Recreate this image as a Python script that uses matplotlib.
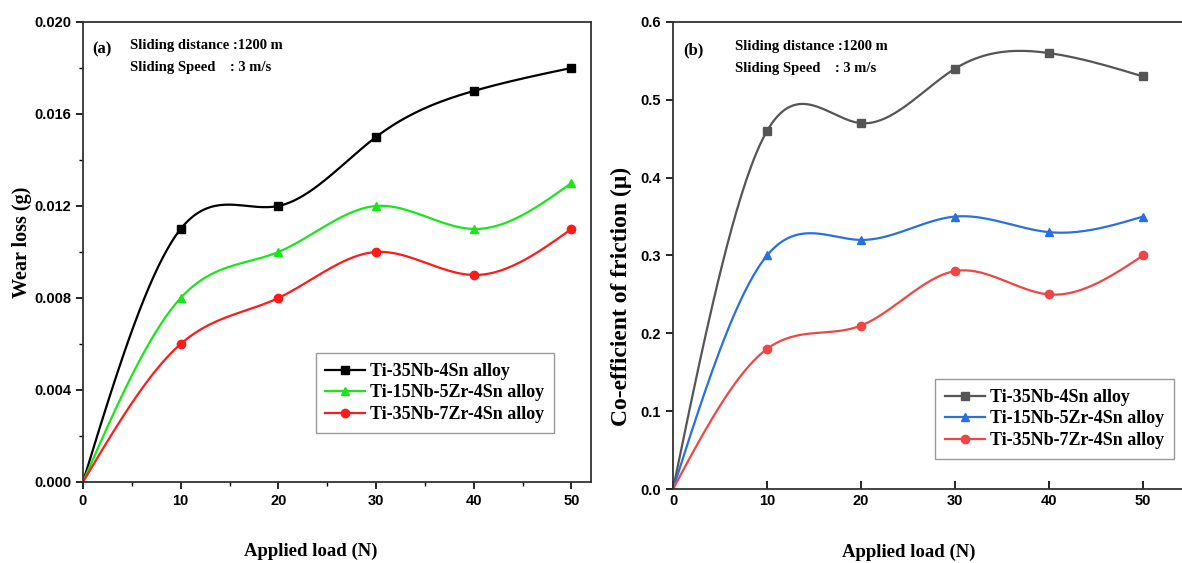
import numpy as np
import matplotlib
matplotlib.use('Agg')
import matplotlib.pyplot as plt
from matplotlib.ticker import MultipleLocator

# data
load = [0, 10, 20, 30, 40, 50]
series_names = ['Ti-35Nb-4Sn alloy', 'Ti-15Nb-5Zr-4Sn alloy', 'Ti-35Nb-7Zr-4Sn alloy']
wear_35Nb4Sn = [0.0, 0.011, 0.012, 0.015, 0.017, 0.018]
wear_15Nb5Zr4Sn = [0.0, 0.008, 0.010, 0.012, 0.011, 0.013]
wear_35Nb7Zr4Sn = [0.0, 0.006, 0.008, 0.010, 0.009, 0.011]
cof_35Nb4Sn = [0.0, 0.46, 0.47, 0.54, 0.56, 0.53]
cof_15Nb5Zr4Sn = [0.0, 0.30, 0.32, 0.35, 0.33, 0.35]
cof_35Nb7Zr4Sn = [0.0, 0.18, 0.21, 0.28, 0.25, 0.30]

colors_a = ['black', '#19e619', '#ff1a1a']
colors_b = ['#555555', '#2a6fe0', '#f04545']
markers = ['s', '^', 'o']

serif = 'Liberation Serif'
sans = 'Liberation Sans'


def spline(x, y, n=200):
    # natural cubic spline, only used to draw the smooth connecting line
    x = np.asarray(x, float)
    y = np.asarray(y, float)
    k = len(x)
    h = np.diff(x)
    A = np.zeros((k, k))
    r = np.zeros(k)
    A[0, 0] = A[-1, -1] = 1
    for i in range(1, k - 1):
        A[i, i - 1] = h[i - 1]
        A[i, i] = 2 * (h[i - 1] + h[i])
        A[i, i + 1] = h[i]
        r[i] = 3 * ((y[i + 1] - y[i]) / h[i] - (y[i] - y[i - 1]) / h[i - 1])
    c = np.linalg.solve(A, r)
    xs = np.linspace(x[0], x[-1], n)
    idx = np.clip(np.searchsorted(x, xs) - 1, 0, k - 2)
    dx = xs - x[idx]
    b = (y[1:] - y[:-1]) / h - h * (2 * c[:-1] + c[1:]) / 3
    d = (c[1:] - c[:-1]) / (3 * h)
    ys = y[idx] + b[idx] * dx + c[idx] * dx ** 2 + d[idx] * dx ** 3
    return xs, ys


fig = plt.figure(figsize=(11.82, 5.63), dpi=100)
ax1 = fig.add_axes([0.0702, 0.1439, 0.4298, 0.8171])
ax2 = fig.add_axes([0.5694, 0.1314, 0.4374, 0.8296])


def draw(ax, ys, colors):
    for vals, col, m, name in zip(ys, colors, markers, series_names):
        xs, sm = spline(load, vals)
        ax.plot(xs, sm, color=col, lw=1.6)
        ax.plot(load[1:], vals[1:], ls='none', marker=m, color=col, ms=6)
        ax.plot([], [], color=col, lw=1.6, marker=m, ms=6, label=name)


draw(ax1, [wear_35Nb4Sn, wear_15Nb5Zr4Sn, wear_35Nb7Zr4Sn], colors_a)
draw(ax2, [cof_35Nb4Sn, cof_15Nb5Zr4Sn, cof_35Nb7Zr4Sn], colors_b)

ax1.set_xlim(0, 52)
ax1.set_ylim(0, 0.020)
ax1.set_yticks([0.000, 0.004, 0.008, 0.012, 0.016, 0.020])
ax1.set_yticklabels(['0.000', '0.004', '0.008', '0.012', '0.016', '0.020'])
ax1.set_xticks(load)
ax1.xaxis.set_minor_locator(MultipleLocator(5))
ax1.yaxis.set_minor_locator(MultipleLocator(0.002))
ax1.tick_params(which='major', direction='out', length=5, width=1.2)
ax1.tick_params(which='minor', direction='out', length=3, width=1.0)

ax2.set_xlim(0, 55)
ax2.set_ylim(0, 0.6)
ax2.set_xticks(load)
ax2.set_yticks([0.0, 0.1, 0.2, 0.3, 0.4, 0.5, 0.6])
ax2.tick_params(axis='x', direction='in', length=6, width=1.2)
ax2.tick_params(axis='y', direction='out', length=5, width=1.2)

for ax in (ax1, ax2):
    for s in ax.spines.values():
        s.set_linewidth(1.3)
        s.set_color('#333333')
    for lab in ax.get_xticklabels() + ax.get_yticklabels():
        lab.set_fontfamily(sans)
        lab.set_fontweight('bold')
        lab.set_fontsize(10.5)
    ax.set_xlabel('Applied load (N)', family=serif, weight='bold', fontsize=13.5)

ax1.set_ylabel('Wear loss (g)', family=serif, weight='bold', fontsize=14.5)
ax2.set_ylabel('Co-efficient of friction (\u03bc)', family=serif, weight='bold', fontsize=17)
ax1.xaxis.set_label_coords(0.449, -0.133)
ax2.xaxis.set_label_coords(0.455, -0.117)
ax1.yaxis.set_label_coords(-0.1, 0.522)
ax2.yaxis.set_label_coords(-0.079, 0.413)

txt = dict(family=serif, weight='bold', fontsize=10.5, va='center')
ax1.text(0.018, 0.94, '(a)', transform=ax1.transAxes, fontsize=12, family=serif, weight='bold', va='center')
ax1.text(0.092, 0.948, 'Sliding distance :1200 m', transform=ax1.transAxes, **txt)
ax1.text(0.092, 0.9, 'Sliding Speed    : 3 m/s', transform=ax1.transAxes, **txt)
ax2.text(0.02, 0.94, '(b)', transform=ax2.transAxes, fontsize=12, family=serif, weight='bold', va='center')
ax2.text(0.12, 0.948, 'Sliding distance :1200 m', transform=ax2.transAxes, **txt)
ax2.text(0.12, 0.9, 'Sliding Speed    : 3 m/s', transform=ax2.transAxes, **txt)

leg_kw = dict(prop={'family': serif, 'weight': 'bold', 'size': 13}, fancybox=False,
              edgecolor='#999999', framealpha=1, handlelength=2.2, handletextpad=0.25,
              labelspacing=0.25, borderpad=0.55, numpoints=1)
ax1.legend(loc='upper left', bbox_to_anchor=(0.44, 0.3), **leg_kw)
ax2.legend(loc='upper left', bbox_to_anchor=(0.49, 0.255), **leg_kw)

fig.savefig('out.png', dpi=100)
